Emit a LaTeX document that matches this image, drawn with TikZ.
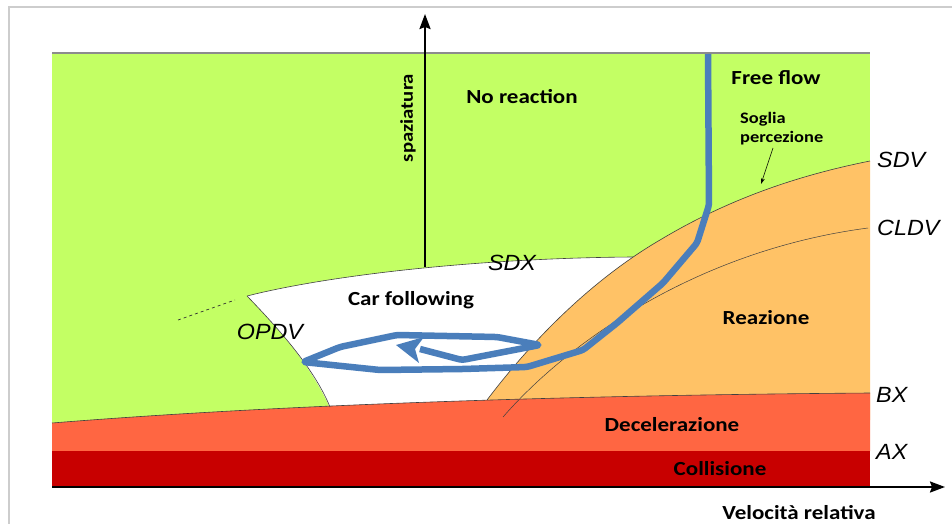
\documentclass[tikz,border=0pt]{standalone}
\usepackage{fontspec}
\setmainfont{Carlito}
\newfontfamily\lblfont[FakeStretch=1.15]{Carlito}
\newfontfamily\itfont[FakeStretch=1.06]{Liberation Sans}
\usetikzlibrary{arrows.meta}
\definecolor{nogreen}{RGB}{195,255,100}
\definecolor{reazorange}{RGB}{255,194,102}
\definecolor{decred}{RGB}{255,102,66}
\definecolor{colred}{RGB}{200,0,0}
\definecolor{pathblue}{RGB}{74,126,187}
\definecolor{framegray}{RGB}{205,205,205}
\begin{document}
\begin{tikzpicture}[x=1pt,y=-1pt,
  zonelbl/.style={inner sep=0pt,font=\lblfont\bfseries\fontsize{20}{22}\selectfont},
  smalllbl/.style={inner sep=0pt,align=left,font=\lblfont\bfseries\fontsize{16}{19}\selectfont},
  curvelbl/.style={inner sep=0pt,font=\itfont\itshape\fontsize{22}{24}\selectfont},
  boundary/.style={draw=black!75,line width=0.6pt},
  axisline/.style={draw=black,line width=2.2pt,-{Stealth[length=15pt,width=11pt,inset=2pt]}},
  bluepath/.style={draw=pathblue,line width=6.5pt,line join=round,rounded corners=3pt}]
\useasboundingbox (0,0) rectangle (952,524);
% frame
\draw[framegray,line width=1.5pt] (9,524) -- (9,7) -- (952,7);
% regions
\fill[nogreen] (52,53) rectangle (870,460);
\fill[white] (247,296) .. controls (330,275) and (480,258) .. (633,257) -- (700,254) -- (700,440) -- (336,440) -- (333,415) .. controls (315,370) and (280,330) .. (247,296) -- cycle;
\fill[reazorange] (472,420) -- (487,400) .. controls (540,330) and (600,275) .. (660,240) .. controls (730,198) and (800,175) .. (870,161) -- (870,420) -- cycle;
\fill[decred] (52,423) .. controls (300,403) and (600,395) .. (870,393) -- (870,451) -- (52,451) -- cycle;
\fill[colred] (52,451) rectangle (870,487);
% boundaries
\draw[boundary] (247,296) .. controls (330,275) and (480,258) .. (633,257);
\draw[boundary] (247,296) .. controls (280,330) and (315,370) .. (330,407);
\draw[boundary] (487,400) .. controls (540,330) and (600,275) .. (660,240) .. controls (730,198) and (800,175) .. (870,161);
\draw[boundary,line width=0.5pt] (503,417) .. controls (570,340) and (700,250) .. (868,228);
\draw[boundary] (52,423) .. controls (300,403) and (600,395) .. (870,393);
\draw[black!80,line width=0.7pt,dashed] (178,320) -- (235,300);
\draw[black!45,line width=2pt] (52,53) -- (870,53);
% axes
\coordinate (yorig) at (425,267);
\coordinate (ytop) at (425,14);
\coordinate (xorig) at (52,487);
\coordinate (xend) at (945,487);
\draw[axisline] (yorig) -- (ytop);
\draw[axisline] (xorig) -- (xend);
% blue trajectory
\coordinate (ffstart) at (708,54);
\coordinate (loopend) at (396,345);
\draw[bluepath] (ffstart) -- (709,205) -- (697,243) -- (663,283) -- (617,323) -- (583,350) -- (527,367) -- (463,369) -- (380,370) -- (303,362) -- (340,347) -- (397,335) -- (497,337) -- (540,345) -- (462,360) -- (420,349);
\fill[pathblue] (loopend) -- (424,337) -- (415,349) -- (419,363) -- cycle;
% labels
\node[zonelbl] (noreact) at (522,97) {No reaction};
\node[zonelbl] (freeflow) at (776,78) {Free flow};
\node[smalllbl,anchor=north west] (soglia) at (740,112) {Soglia\\percezione};
\coordinate (sogliatail) at (773,148);
\coordinate (sogliatip) at (761,184);
\draw[black,line width=0.6pt,-{Stealth[length=6pt,width=4pt]}] (sogliatail) -- (sogliatip);
\node[zonelbl] (reaz) at (766,318) {Reazione};
\node[zonelbl] (decel) at (672,425) {Decelerazione};
\node[zonelbl] (coll) at (720,469) {Collisione};
\node[zonelbl] (carfol) at (411,300) {Car following};
\node[zonelbl] (velrel) at (799,513) {Velocità relativa};
\node[zonelbl,rotate=90,font=\lblfont\bfseries\fontsize{18}{20}\selectfont] (spaz) at (408,118) {spaziatura};
\node[curvelbl,anchor=west] (sdv) at (877,160) {SDV};
\node[curvelbl,anchor=west] (cldv) at (877,228) {CLDV};
\node[curvelbl,anchor=west] (bx) at (876,395) {BX};
\node[curvelbl,anchor=west] (ax) at (876,452) {AX};
\node[curvelbl] (opdv) at (270,332) {OPDV};
\node[curvelbl] (sdx) at (512,263) {SDX};
\end{tikzpicture}
\end{document}
